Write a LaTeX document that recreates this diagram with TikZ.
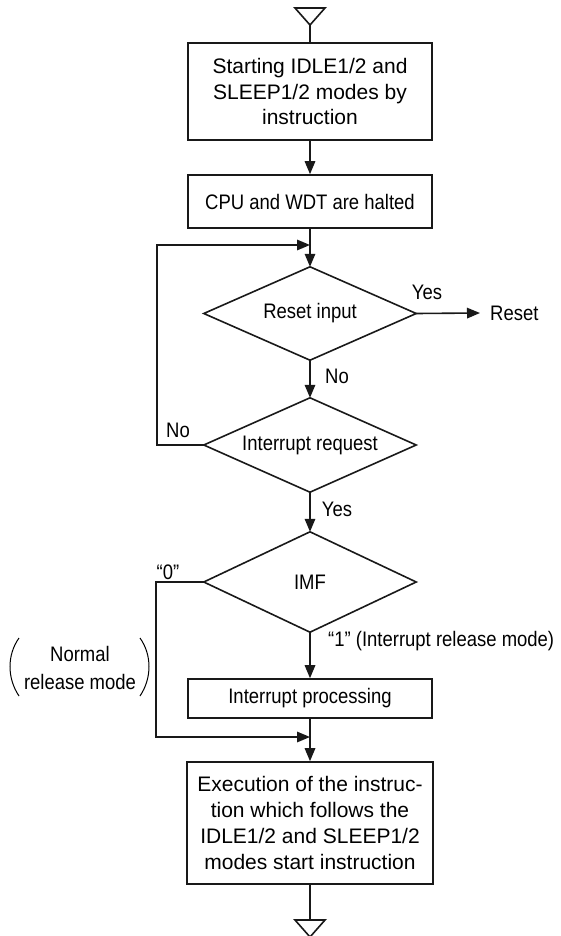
\documentclass[tikz,border=0pt]{standalone}
\usepackage{fontspec}
\setmainfont{Liberation Sans}
\usetikzlibrary{arrows.meta}
\newcommand\cond[1]{\scalebox{0.88}[1]{#1}}
\begin{document}
\begin{tikzpicture}[x=1pt,y=-1pt,
  every node/.style={font=\fontsize{21}{25.7}\selectfont, inner sep=0pt},
  line/.style={line width=1.6pt, draw=black!90},
  arr/.style={line width=1.6pt, draw=black!90, -{Triangle[length=13pt,width=10.5pt]}},
  procbox/.style={draw=black!90, line width=1.6pt, rectangle, minimum width=244pt, align=center},
  decision/.style={rectangle, minimum width=212pt, minimum height=94pt, inner sep=0pt},
  lbl/.style={font=\fontsize{21}{25}\selectfont}]
\useasboundingbox (0,0) rectangle (561,936);

% top terminal triangle
\coordinate (tt) at (310,25);
\draw[line, line join=miter] (295,8) -- (325,8) -- (tt) -- cycle;

\node[procbox, minimum height=97pt] (b1) at (310,91.5) {Starting IDLE1/2 and\\SLEEP1/2 modes by\\instruction};
\node[procbox, minimum height=53pt] (b2) at (310,201.5) {\cond{CPU and WDT are halted}};
\node[decision, minimum height=93pt] (d1) at (310,313.5) {\cond{Reset input}};
\node[decision] (d2) at (310,445) {\cond{Interrupt request}};
\node[decision, minimum height=100pt] (d3) at (310,582) {\cond{IMF}};
\node[procbox, minimum height=39pt] (b3) at (310,698.5) {\cond{Interrupt processing}};
\node[procbox, minimum height=122pt, minimum width=246pt] (b4) at (310,823) {Execution of the instruc-\\tion which follows the\\IDLE1/2 and SLEEP1/2\\modes start instruction};

\foreach \d in {d1,d2,d3}
  \draw[line, line join=miter] (\d.north) -- (\d.east) -- (\d.south) -- (\d.west) -- cycle;

\node[lbl, anchor=west] (reset) at (490,313) {\cond{Reset}};

% bottom terminal triangle
\coordinate (bt) at (310,920);
\draw[line, line join=miter] (295,920) -- (325,920) -- (310,937) -- cycle;

\coordinate (m1) at (310,245);
\coordinate (m2) at (310,737);

% connectors
\draw[line] (tt) -- (b1.north);
\draw[arr] (b1.south) -- (b2.north);
\draw[line] (b2.south) -- (m1);
\draw[arr] (m1) -- (d1.north);
\draw[arr] (d1.east) -- ([xshift=-10pt]reset.west);
\draw[arr] (d1.south) -- (d2.north);
\draw[arr] (d2.west) -- (157,445) |- (m1);
\draw[arr] (d2.south) -- (d3.north);
\draw[arr] (d3.south) -- (b3.north);
\draw[line] (b3.south) -- (m2);
\draw[arr] (d3.west) -- (156,582) |- (m2);
\draw[arr] (m2) -- (b4.north);
\draw[line] (b4.south) -- (bt);

% labels
\node[lbl] (yes1) at (427,292) {\cond{Yes}};
\node[lbl] (no1) at (337,376) {\cond{No}};
\node[lbl] (no2) at (178,430) {\cond{No}};
\node[lbl] (yes2) at (337,509) {\cond{Yes}};
\node[lbl] (zero) at (168,572) {\cond{“0”}};
\node[lbl, anchor=west] (one) at (328,641) {\cond{“1” (Interrupt release mode)}};

% normal release mode
\node[lbl, align=center, font=\fontsize{21}{28}\selectfont] (normal) at (80,668) {\cond{Normal}\\\cond{release mode}};
\draw[line width=1pt] (19,638) .. controls (7,655) and (7,678) .. (19,696);
\draw[line width=1pt] (140,638) .. controls (152,655) and (152,678) .. (140,696);
\end{tikzpicture}
\end{document}
